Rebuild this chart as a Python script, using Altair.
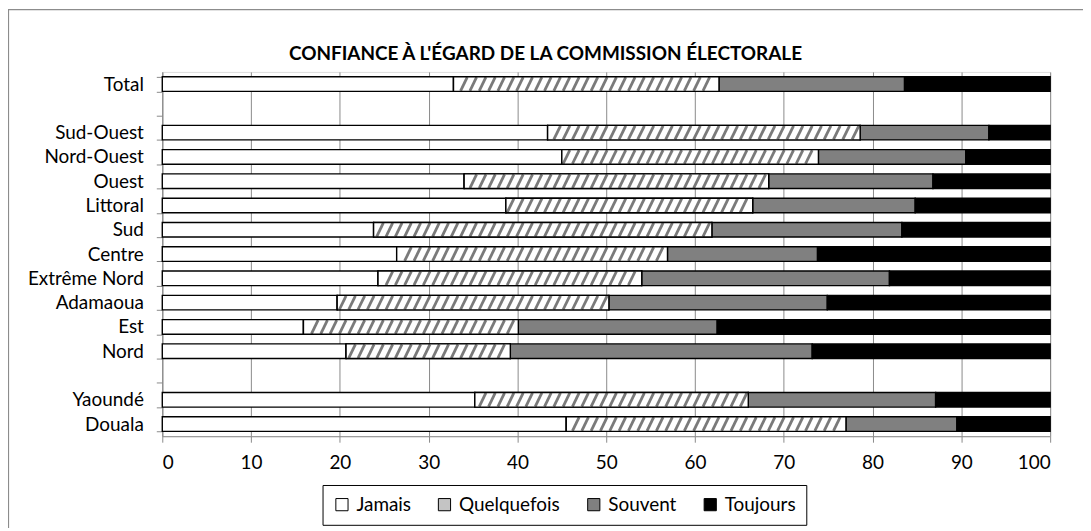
import altair as alt
import pandas as pd

categories = ["Total", "Sud-Ouest", "Nord-Ouest", "Ouest", "Littoral", "Sud", "Centre",
              "Extrême Nord", "Adamaoua", "Est", "Nord", "Yaoundé", "Douala"]
jamais      = [32.8, 43.4, 45.0, 34.0, 38.7, 23.8, 26.4, 24.3, 19.7, 15.9, 20.7, 35.2, 45.5]
quelquefois = [29.9, 35.2, 28.9, 34.3, 27.8, 38.1, 30.5, 29.7, 30.6, 24.2, 18.5, 30.8, 31.5]
souvent     = [20.9, 14.5, 16.6, 18.5, 18.3, 21.4, 16.9, 27.9, 24.6, 22.4, 34.0, 21.1, 12.5]
toujours    = [16.4, 6.9, 9.5, 13.2, 15.2, 16.7, 26.2, 18.1, 25.1, 37.5, 26.8, 12.9, 10.5]

keys = ["Jamais", "Quelquefois", "Souvent", "Toujours"]
key_colors = ["#ffffff", "#c4c4c4", "#808080", "#000000"]

# row order on the y axis, with two empty gap rows
y_domain = ["Total", " ", "Sud-Ouest", "Nord-Ouest", "Ouest", "Littoral", "Sud", "Centre",
            "Extrême Nord", "Adamaoua", "Est", "Nord", "  ", "Yaoundé", "Douala"]

title_text = "CONFIANCE À L'ÉGARD DE LA COMMISSION ÉLECTORALE"

series = [jamais, quelquefois, souvent, toujours]
long_rows = []
for ci, c in enumerate(categories):
    for ki, k in enumerate(keys):
        long_rows.append({"cat": c, "key": k, "idx": ki, "val": series[ki][ci]})
long_df = pd.DataFrame(long_rows)
wide_df = pd.DataFrame({"cat": categories, "jamais": jamais, "quelq": quelquefois})

FONT = "Lato"
W, H = 892, 366

yscale = alt.Scale(domain=y_domain, paddingInner=0.4, paddingOuter=0.2)
xscale = alt.Scale(domain=[0, 100])

bars = alt.Chart(long_df).mark_bar(stroke="black", strokeWidth=1.4).encode(
    x=alt.X("val:Q", stack="zero", scale=xscale,
            axis=alt.Axis(values=list(range(0, 101, 10)), title=None, grid=True,
                          gridColor="#8a8a8a", gridWidth=1, domainColor="#8a8a8a",
                          tickColor="#8a8a8a", tickSize=6, labelFont=FONT,
                          labelFontSize=19, labelColor="black", labelPadding=11)),
    y=alt.Y("cat:N", scale=yscale,
            axis=alt.Axis(title=None, tickBand="extent", domainColor="#8a8a8a",
                          tickColor="#8a8a8a", tickSize=6, labelFont=FONT,
                          labelFontSize=19, labelColor="black", labelPadding=13)),
    color=alt.Color("key:N", scale=alt.Scale(domain=keys, range=key_colors),
                    legend=alt.Legend(orient="none", legendX=161, legendY=415,
                                      direction="horizontal", title=None,
                                      strokeColor="black", padding=10,
                                      symbolType="square", symbolSize=150,
                                      symbolStrokeColor="black", symbolStrokeWidth=1,
                                      labelFont=FONT, labelFontSize=19,
                                      labelColor="black", columnPadding=24,
                                      labelOffset=5)),
    order=alt.Order("idx:Q", sort="ascending"),
)

base_q = alt.Chart(wide_df).transform_calculate(
    a="datum.jamais", b="datum.jamais + datum.quelq"
)

q_white = base_q.mark_bar(color="white").encode(
    x=alt.X("a:Q", scale=xscale), x2="b:Q", y=alt.Y("cat:N", scale=yscale)
)

stripes = base_q.transform_calculate(
    s="sequence(0, 100, 1.05)"
).transform_flatten(["s"]).transform_filter(
    "datum.s >= datum.a + 0.1 && datum.s + 0.75 <= datum.b - 0.1"
).transform_calculate(s2="datum.s + 0.75").mark_rule(
    color="#7a7a7a", strokeWidth=2.8
).encode(
    x=alt.X("s:Q", scale=xscale), x2="s2:Q",
    y=alt.Y("cat:N", scale=yscale, bandPosition=0.97),
    y2=alt.Y2("cat:N", bandPosition=0.03),
)

q_outline = base_q.mark_bar(fillOpacity=0, stroke="black", strokeWidth=1.4).encode(
    x=alt.X("a:Q", scale=xscale), x2="b:Q", y=alt.Y("cat:N", scale=yscale)
)

one = pd.DataFrame({"f": [0]})

frame = alt.Chart(one).mark_rect(
    fillOpacity=0, stroke="#8c8c8c", strokeWidth=1.2, clip=False
).encode(
    x=alt.value(-154.5), x2=alt.value(1000), y=alt.value(-62.5), y2=alt.value(480)
)

title = alt.Chart(one).mark_text(
    text=title_text, font=FONT, fontSize=19, fontWeight="bold", color="black",
    align="center", baseline="middle"
).encode(x=alt.value(385), y=alt.value(-18))

chart = alt.layer(bars, q_white, stripes, q_outline, frame, title).properties(
    width=W, height=H,
    autosize=alt.AutoSizeParams(type="none"),
    padding={"left": 155, "top": 63, "right": 33, "bottom": 91},
).configure_view(stroke=None).configure(background="white")

chart.save("out.html", embed_options={"renderer": "svg", "actions": False})
